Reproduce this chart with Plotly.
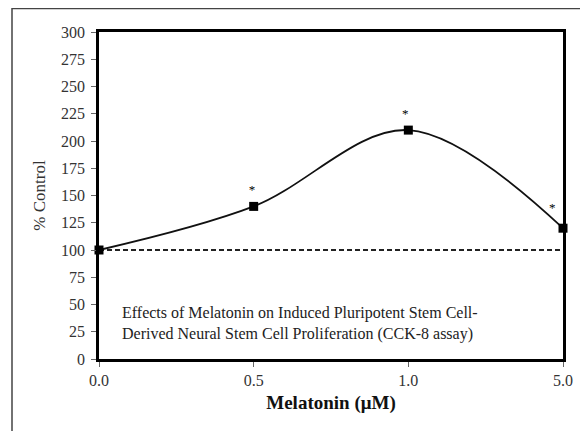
import plotly.graph_objects as go

categories = ["0.0", "0.5", "1.0", "5.0"]
values = [100, 140, 210, 120]
baseline = [100, 100, 100, 100]
star_x = [0.99, 1.98, 2.93]
star_y = [154, 224, 138]
y_ticks = list(range(0, 301, 25))

xpos = list(range(len(categories)))
FONT = "Liberation Serif"

fig = go.Figure()
fig.add_trace(go.Scatter(
    x=xpos, y=baseline, mode="lines",
    line=dict(color="#222", width=1.8, dash="5px,3px"),
    cliponaxis=False, hoverinfo="skip"))
fig.add_trace(go.Scatter(
    x=xpos, y=values, mode="lines+markers",
    line=dict(color="#111", width=1.8, shape="spline", smoothing=1.0),
    marker=dict(symbol="square", size=9, color="#000"),
    cliponaxis=False))
fig.add_trace(go.Scatter(
    x=star_x, y=star_y, mode="text", text=["*"] * len(star_x),
    textfont=dict(family=FONT, size=13, color="#000"),
    cliponaxis=False, hoverinfo="skip"))

fig.add_annotation(
    x=0, xref="paper", xanchor="left", xshift=21,
    y=(359 - 323) / 327, yref="paper", yanchor="middle",
    text="Effects of Melatonin on Induced Pluripotent Stem Cell-<br>Derived Neural Stem Cell Proliferation (CCK-8 assay)",
    showarrow=False, align="left",
    font=dict(family=FONT, size=16, color="#222"))

fig.add_shape(type="rect", xref="paper", yref="paper",
              x0=(12 - 99) / 464, x1=1.2, y0=-0.3, y1=(359 - 8.5) / 327,
              line=dict(color="#444", width=1.5), layer="below")

fig.update_layout(
    width=580, height=423,
    margin=dict(l=91, r=25, t=24, b=72),
    paper_bgcolor="white", plot_bgcolor="white",
    showlegend=False,
    font=dict(family=FONT, size=16, color="#222"),
    xaxis=dict(
        range=[0, 3], tickmode="array", tickvals=xpos, ticktext=categories,
        showgrid=False, zeroline=False,
        showline=True, linecolor="#000", linewidth=2.5, mirror=True,
        ticks="outside", ticklen=5, tickcolor="#666", tickwidth=1,
        tickfont=dict(family=FONT, size=16, color="#333"),
        title=dict(text="<b>Melatonin (μM)</b>", standoff=8,
                   font=dict(family=FONT, size=19, color="#111"))),
    yaxis=dict(
        range=[0, 300], tickmode="array", tickvals=y_ticks,
        showgrid=False, zeroline=False,
        showline=True, linecolor="#000", linewidth=2.5, mirror=True,
        ticks="outside", ticklen=5, tickcolor="#666", tickwidth=1,
        ticklabelstandoff=3,
        tickfont=dict(family=FONT, size=16, color="#333"),
        title=dict(text="% Control", standoff=12,
                   font=dict(family=FONT, size=17, color="#333"))),
)

fig.write_html("out.html")
